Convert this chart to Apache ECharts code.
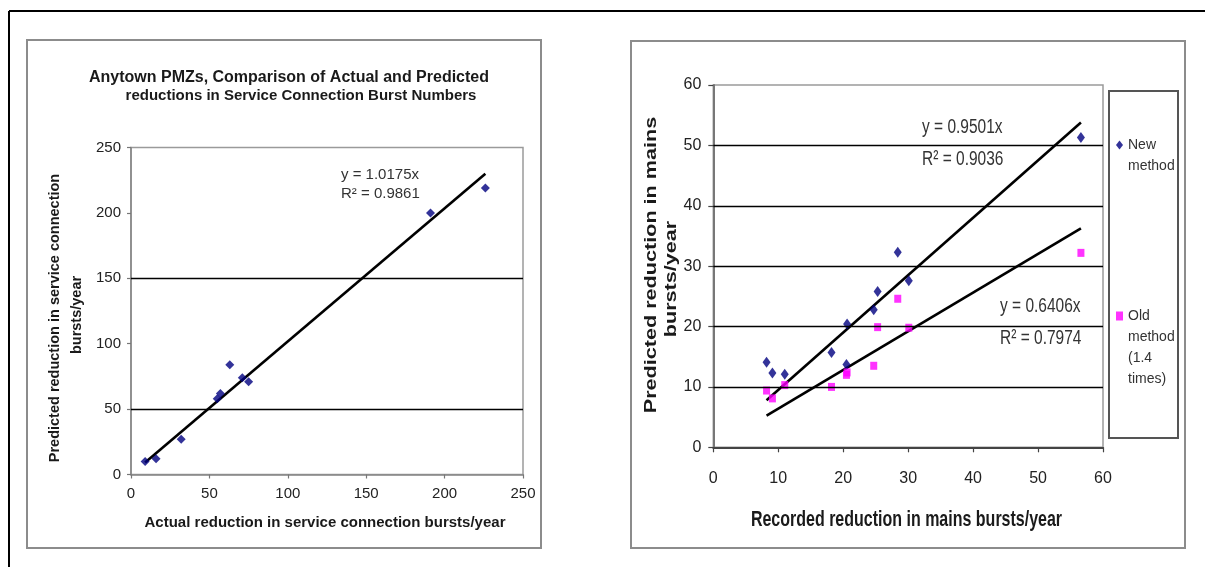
<!DOCTYPE html>
<html>
<head>
<meta charset="utf-8">
<script src="https://cdn.jsdelivr.net/npm/echarts@6/dist/echarts.min.js"></script>
<style>
  html, body { margin: 0; padding: 0; background: #fff; }
  #chart { width: 1205px; height: 567px; }
</style>
</head>
<body>
<div id="chart"></div>
<script>
// Anytown PMZs: service connection bursts per year
const serviceActual    = [9, 16, 32, 55, 57, 63, 71, 75, 191, 226];
const servicePredicted = [10, 12, 27, 58, 62, 84, 74, 71, 200, 219];
const serviceSlope = 1.0175;
const serviceR2 = 0.9861;
const serviceGridValues = [50, 150];
const serviceTicks = { min: 0, max: 250, step: 50 };

// Mains bursts per year: new and old (1.4 times) prediction methods
const mainsRecorded = [8.2, 9.1, 11.0, 18.2, 20.6, 20.5, 24.7, 25.3, 28.4, 30.1, 56.6];
const mainsNew      = [14.1, 12.3, 12.1, 15.7, 20.4, 13.7, 22.8, 25.8, 32.3, 27.6, 51.3];
const mainsOld      = [9.4, 8.1, 10.3, 10.0, 12.4, 12.0, 13.5, 19.9, 24.6, 19.8, 32.2];
const newSlope = 0.9501, newR2 = 0.9036;
const oldSlope = 0.6406, oldR2 = 0.7974;
const mainsGridValues = [10, 20, 30, 40, 50];
const mainsTicks = { min: 0, max: 60, step: 10 };

const seriesNames = ['New method', 'Old method (1.4 times)'];
const legendLines = {
  'New method': ['New', 'method'],
  'Old method (1.4 times)': ['Old', 'method', '(1.4', 'times)']
};

const plainFont = "'Liberation Sans', Arial, sans-serif";

const zip = (xs, ys) => xs.map((x, i) => [x, ys[i]]);
const fitLine = (xs, slope) => {
  const lo = Math.min(...xs), hi = Math.max(...xs);
  return [[lo, slope * lo], [hi, slope * hi]];
};
const gridMarks = values => ({
  silent: true,
  symbol: 'none',
  animation: false,
  label: { show: false },
  lineStyle: { color: '#000', width: 1.4, type: 'solid' },
  data: values.map(v => ({ yAxis: v }))
});

const chart = echarts.init(document.getElementById('chart'));

function axisPair(gridIndex, ticks, opts) {
  const base = {
    gridIndex,
    type: 'value',
    min: ticks.min,
    max: ticks.max,
    interval: ticks.step,
    splitLine: { show: false },
    axisTick: { show: true, inside: false, length: opts.tickLen, lineStyle: { color: opts.tickColor, width: 1.2 } }
  };
  return [
    Object.assign({}, base, {
      axisLine: { show: true, onZero: false, lineStyle: { color: opts.xLineColor, width: opts.lineWidth } },
      axisLabel: { margin: opts.xMargin, fontSize: opts.fontSize, color: '#222', fontFamily: plainFont }
    }),
    Object.assign({}, base, {
      axisLine: { show: true, onZero: false, lineStyle: { color: opts.yLineColor, width: opts.lineWidth } },
      axisLabel: { margin: opts.yMargin, fontSize: opts.fontSize, color: '#222', fontFamily: plainFont }
    })
  ];
}

const leftAxes = axisPair(0, serviceTicks, {
  tickLen: 4, tickColor: '#777', xLineColor: '#888', yLineColor: '#888', lineWidth: 1.6,
  xMargin: 12, yMargin: 10, fontSize: 15
});
const rightAxes = axisPair(1, mainsTicks, {
  tickLen: 5, tickColor: '#444', xLineColor: '#444', yLineColor: '#777', lineWidth: 2,
  xMargin: 23, yMargin: 12, fontSize: 16
});

function label(text, x, y, o) {
  return {
    type: 'text', x, y,
    rotation: o.rotation || 0,
    scaleX: o.scaleX || 1,
    scaleY: o.scaleY || 1,
    silent: true,
    style: {
      text,
      fill: o.color || '#1a1a1a',
      font: (o.bold ? 'bold ' : '') + o.size + 'px ' + plainFont,
      align: o.align || 'center',
      verticalAlign: 'middle'
    }
  };
}

chart.setOption({
  animation: false,
  backgroundColor: '#fff',
  grid: [
    { left: 131, top: 147.5, width: 392, height: 327, show: true, borderColor: '#9a9a9a', borderWidth: 1.5, backgroundColor: 'transparent' },
    { left: 713.3, top: 85, width: 389.7, height: 362.3, show: true, borderColor: '#9a9a9a', borderWidth: 1.5, backgroundColor: 'transparent' }
  ],
  xAxis: [leftAxes[0], rightAxes[0]],
  yAxis: [leftAxes[1], rightAxes[1]],
  legend: {
    orient: 'vertical',
    left: 1116,
    top: 113.5,
    itemWidth: 7,
    itemHeight: 9,
    itemGap: 66,
    padding: 0,
    selectedMode: false,
    textStyle: { fontSize: 14, lineHeight: 21, color: '#333', fontFamily: plainFont },
    // blank lines above keep each marker level with the first line of its label
    formatter: name => {
      const lines = legendLines[name];
      return new Array(lines.length - 1).fill('').concat(lines).join('\n');
    },
    data: [
      { name: seriesNames[0], icon: 'diamond' },
      { name: seriesNames[1], icon: 'rect' }
    ]
  },
  series: [
    // service connection chart
    { type: 'line', xAxisIndex: 0, yAxisIndex: 0, data: [], z: 1, markLine: gridMarks(serviceGridValues) },
    {
      type: 'line', xAxisIndex: 0, yAxisIndex: 0, z: 2, showSymbol: false, silent: true,
      data: fitLine(serviceActual, serviceSlope),
      lineStyle: { color: '#000', width: 2.6 }
    },
    {
      type: 'scatter', name: 'Service connections', xAxisIndex: 0, yAxisIndex: 0, z: 3,
      symbol: 'diamond', symbolSize: [9, 9],
      itemStyle: { color: '#000080' },
      data: zip(serviceActual, servicePredicted)
    },
    // mains chart
    { type: 'line', xAxisIndex: 1, yAxisIndex: 1, data: [], z: 1, markLine: gridMarks(mainsGridValues) },
    {
      type: 'line', xAxisIndex: 1, yAxisIndex: 1, z: 2, showSymbol: false, silent: true,
      data: fitLine(mainsRecorded, newSlope),
      lineStyle: { color: '#000', width: 2.6 }
    },
    {
      type: 'line', xAxisIndex: 1, yAxisIndex: 1, z: 2, showSymbol: false, silent: true,
      data: fitLine(mainsRecorded, oldSlope),
      lineStyle: { color: '#000', width: 2.6 }
    },
    {
      type: 'scatter', name: seriesNames[0], xAxisIndex: 1, yAxisIndex: 1, z: 3,
      symbol: 'diamond', symbolSize: [8, 11],
      itemStyle: { color: '#000080' },
      data: zip(mainsRecorded, mainsNew)
    },
    {
      type: 'scatter', name: seriesNames[1], xAxisIndex: 1, yAxisIndex: 1, z: 3,
      symbol: 'rect', symbolSize: [7, 8],
      itemStyle: { color: '#ff00ff' },
      data: zip(mainsRecorded, mainsOld)
    }
  ],
  graphic: [
    // page frame
    { type: 'line', silent: true, shape: { x1: 9, y1: 11, x2: 1205, y2: 11 }, style: { stroke: '#000', lineWidth: 2 } },
    { type: 'line', silent: true, shape: { x1: 9, y1: 11, x2: 9, y2: 567 }, style: { stroke: '#000', lineWidth: 2 } },
    // panel outlines
    { type: 'rect', silent: true, shape: { x: 27, y: 40, width: 514, height: 508 }, style: { fill: 'none', stroke: '#8c8c8c', lineWidth: 2 } },
    { type: 'rect', silent: true, shape: { x: 631, y: 41, width: 554, height: 507 }, style: { fill: 'none', stroke: '#8c8c8c', lineWidth: 2 } },
    // legend frame
    { type: 'rect', silent: true, shape: { x: 1109, y: 91, width: 69, height: 347 }, style: { fill: 'none', stroke: '#555', lineWidth: 2 } },

    // service connection chart texts
    label('Anytown PMZs, Comparison of Actual and Predicted', 289, 78, { size: 16, bold: true }),
    label('reductions in Service Connection Burst Numbers', 301, 96, { size: 15, bold: true }),
    label('Actual reduction in service connection bursts/year', 325, 523, { size: 15, bold: true }),
    label('Predicted reduction in service connection', 55, 318, { size: 14.5, bold: true, rotation: Math.PI / 2 }),
    label('bursts/year', 77, 315, { size: 14.5, bold: true, rotation: Math.PI / 2 }),
    label('y = ' + serviceSlope.toFixed(4) + 'x', 341, 175, { size: 15, align: 'left', color: '#333' }),
    label('R² = ' + serviceR2.toFixed(4), 341, 193.5, { size: 15, align: 'left', color: '#333' }),

    // mains chart texts
    label('Recorded reduction in mains bursts/year', 906.5, 520, { size: 16, bold: true, scaleY: 1.35 }),
    label('Predicted reduction in mains', 652, 265, { size: 16, bold: true, rotation: Math.PI / 2, scaleX: 1.35 }),
    label('bursts/year', 672, 279, { size: 16, bold: true, rotation: Math.PI / 2, scaleX: 1.35 }),
    label('y = ' + newSlope.toFixed(4) + 'x', 922, 127.3, { size: 15.5, align: 'left', color: '#333', scaleY: 1.35 }),
    label('R² = ' + newR2.toFixed(4), 922, 159.3, { size: 15.5, align: 'left', color: '#333', scaleY: 1.35 }),
    label('y = ' + oldSlope.toFixed(4) + 'x', 1000, 306.7, { size: 15.5, align: 'left', color: '#333', scaleY: 1.35 }),
    label('R² = ' + oldR2.toFixed(4), 1000, 338.3, { size: 15.5, align: 'left', color: '#333', scaleY: 1.35 })
  ]
});
</script>
</body>
</html>
